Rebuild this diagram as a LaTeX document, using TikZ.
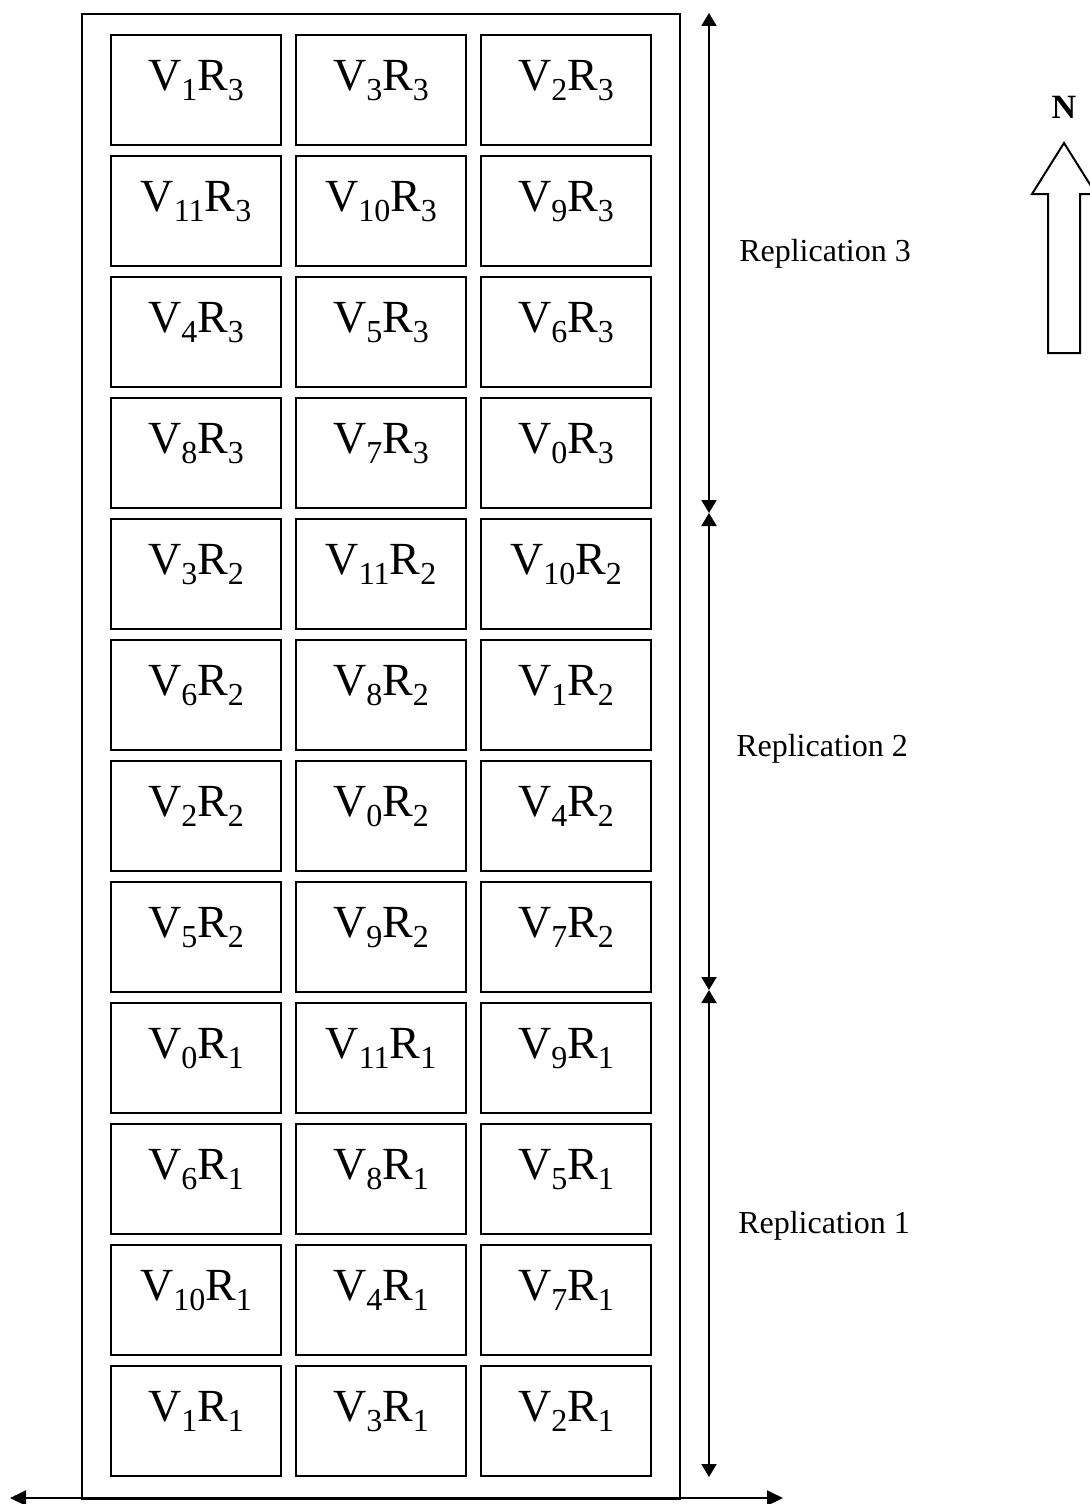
\documentclass[tikz,border=0pt]{standalone}
\usepackage{fontspec}
\setmainfont{Liberation Serif}
\usepackage{tikz}
\usetikzlibrary{matrix, positioning, arrows.meta}

\newcommand{\plotsub}[1]{\raisebox{-5pt}{\fontsize{16pt}{16pt}\selectfont #1}}
\newcommand{\plotlabel}[2]{V\plotsub{#1}R\plotsub{#2}}

\begin{document}
\begin{tikzpicture}[x = 0.5pt, y = -0.5pt, line width = 1pt,
    reptip/.tip = {Triangle[width = 7.5pt, length = 6.5pt]},
    basetip/.tip = {Triangle[width = 7.5pt, length = 8pt]}]
        \useasboundingbox (0,0) rectangle (1089,1504);

        % field
        \node [draw, rectangle, minimum width = 299pt, minimum height = 742.5pt,
          anchor = north west, inner sep = 0pt] (field) at (81,13) {};

        \matrix (plots) [
          matrix of nodes,
          anchor = north west,
          inner sep = 0pt,
          column sep = 6.5pt,
          row sep = 4.5pt,
          nodes = {
            draw,
            rectangle,
            anchor = center,
            inner sep = 0pt,
            minimum height = 55pt,
            minimum width = 85pt,
            text height = 12pt,
            text depth = 12pt,
            font = \fontsize{23pt}{28pt}\selectfont,
          }
        ] at (109,33) {
          \plotlabel{1}{3}  & \plotlabel{3}{3}  & \plotlabel{2}{3}  \\
          \plotlabel{11}{3} & \plotlabel{10}{3} & \plotlabel{9}{3}  \\
          \plotlabel{4}{3}  & \plotlabel{5}{3}  & \plotlabel{6}{3}  \\
          \plotlabel{8}{3}  & \plotlabel{7}{3}  & \plotlabel{0}{3}  \\
          \plotlabel{3}{2}  & \plotlabel{11}{2} & \plotlabel{10}{2} \\
          \plotlabel{6}{2}  & \plotlabel{8}{2}  & \plotlabel{1}{2}  \\
          \plotlabel{2}{2}  & \plotlabel{0}{2}  & \plotlabel{4}{2}  \\
          \plotlabel{5}{2}  & \plotlabel{9}{2}  & \plotlabel{7}{2}  \\
          \plotlabel{0}{1}  & \plotlabel{11}{1} & \plotlabel{9}{1}  \\
          \plotlabel{6}{1}  & \plotlabel{8}{1}  & \plotlabel{5}{1}  \\
          \plotlabel{10}{1} & \plotlabel{4}{1}  & \plotlabel{7}{1}  \\
          \plotlabel{1}{1}  & \plotlabel{3}{1}  & \plotlabel{2}{1}  \\
        };

        % replications
        \coordinate (rep3 top) at (709,13);
        \coordinate (rep3 end) at (709,513);
        \coordinate (rep2 end) at (709,990);
        \coordinate (rep1 end) at (709,1477);

        \draw [reptip-reptip] (rep3 top) to (rep3 end);
        \draw [reptip-reptip] (rep3 end) to (rep2 end);
        \draw [reptip-reptip] (rep2 end) to (rep1 end);

        \node [font = \fontsize{16pt}{19pt}\selectfont] (rep3) at (825,254)  {Replication 3};
        \node [font = \fontsize{16pt}{19pt}\selectfont] (rep2) at (822,749)  {Replication 2};
        \node [font = \fontsize{16pt}{19pt}\selectfont] (rep1) at (824,1226) {Replication 1};

        % base line
        \coordinate (base left)  at (10,1498);
        \coordinate (base right) at (783,1498);
        \draw [basetip-basetip] (base left) to (base right);

        % north
        \node [font = \bfseries\fontsize{17pt}{20pt}\selectfont] (north) at (1064,107) {N};
        \draw (1064,143) -- (1096,194) -- (1080,194) -- (1080,353)
          -- (1048,353) -- (1048,194) -- (1032,194) -- cycle;
      \end{tikzpicture}
\end{document}
